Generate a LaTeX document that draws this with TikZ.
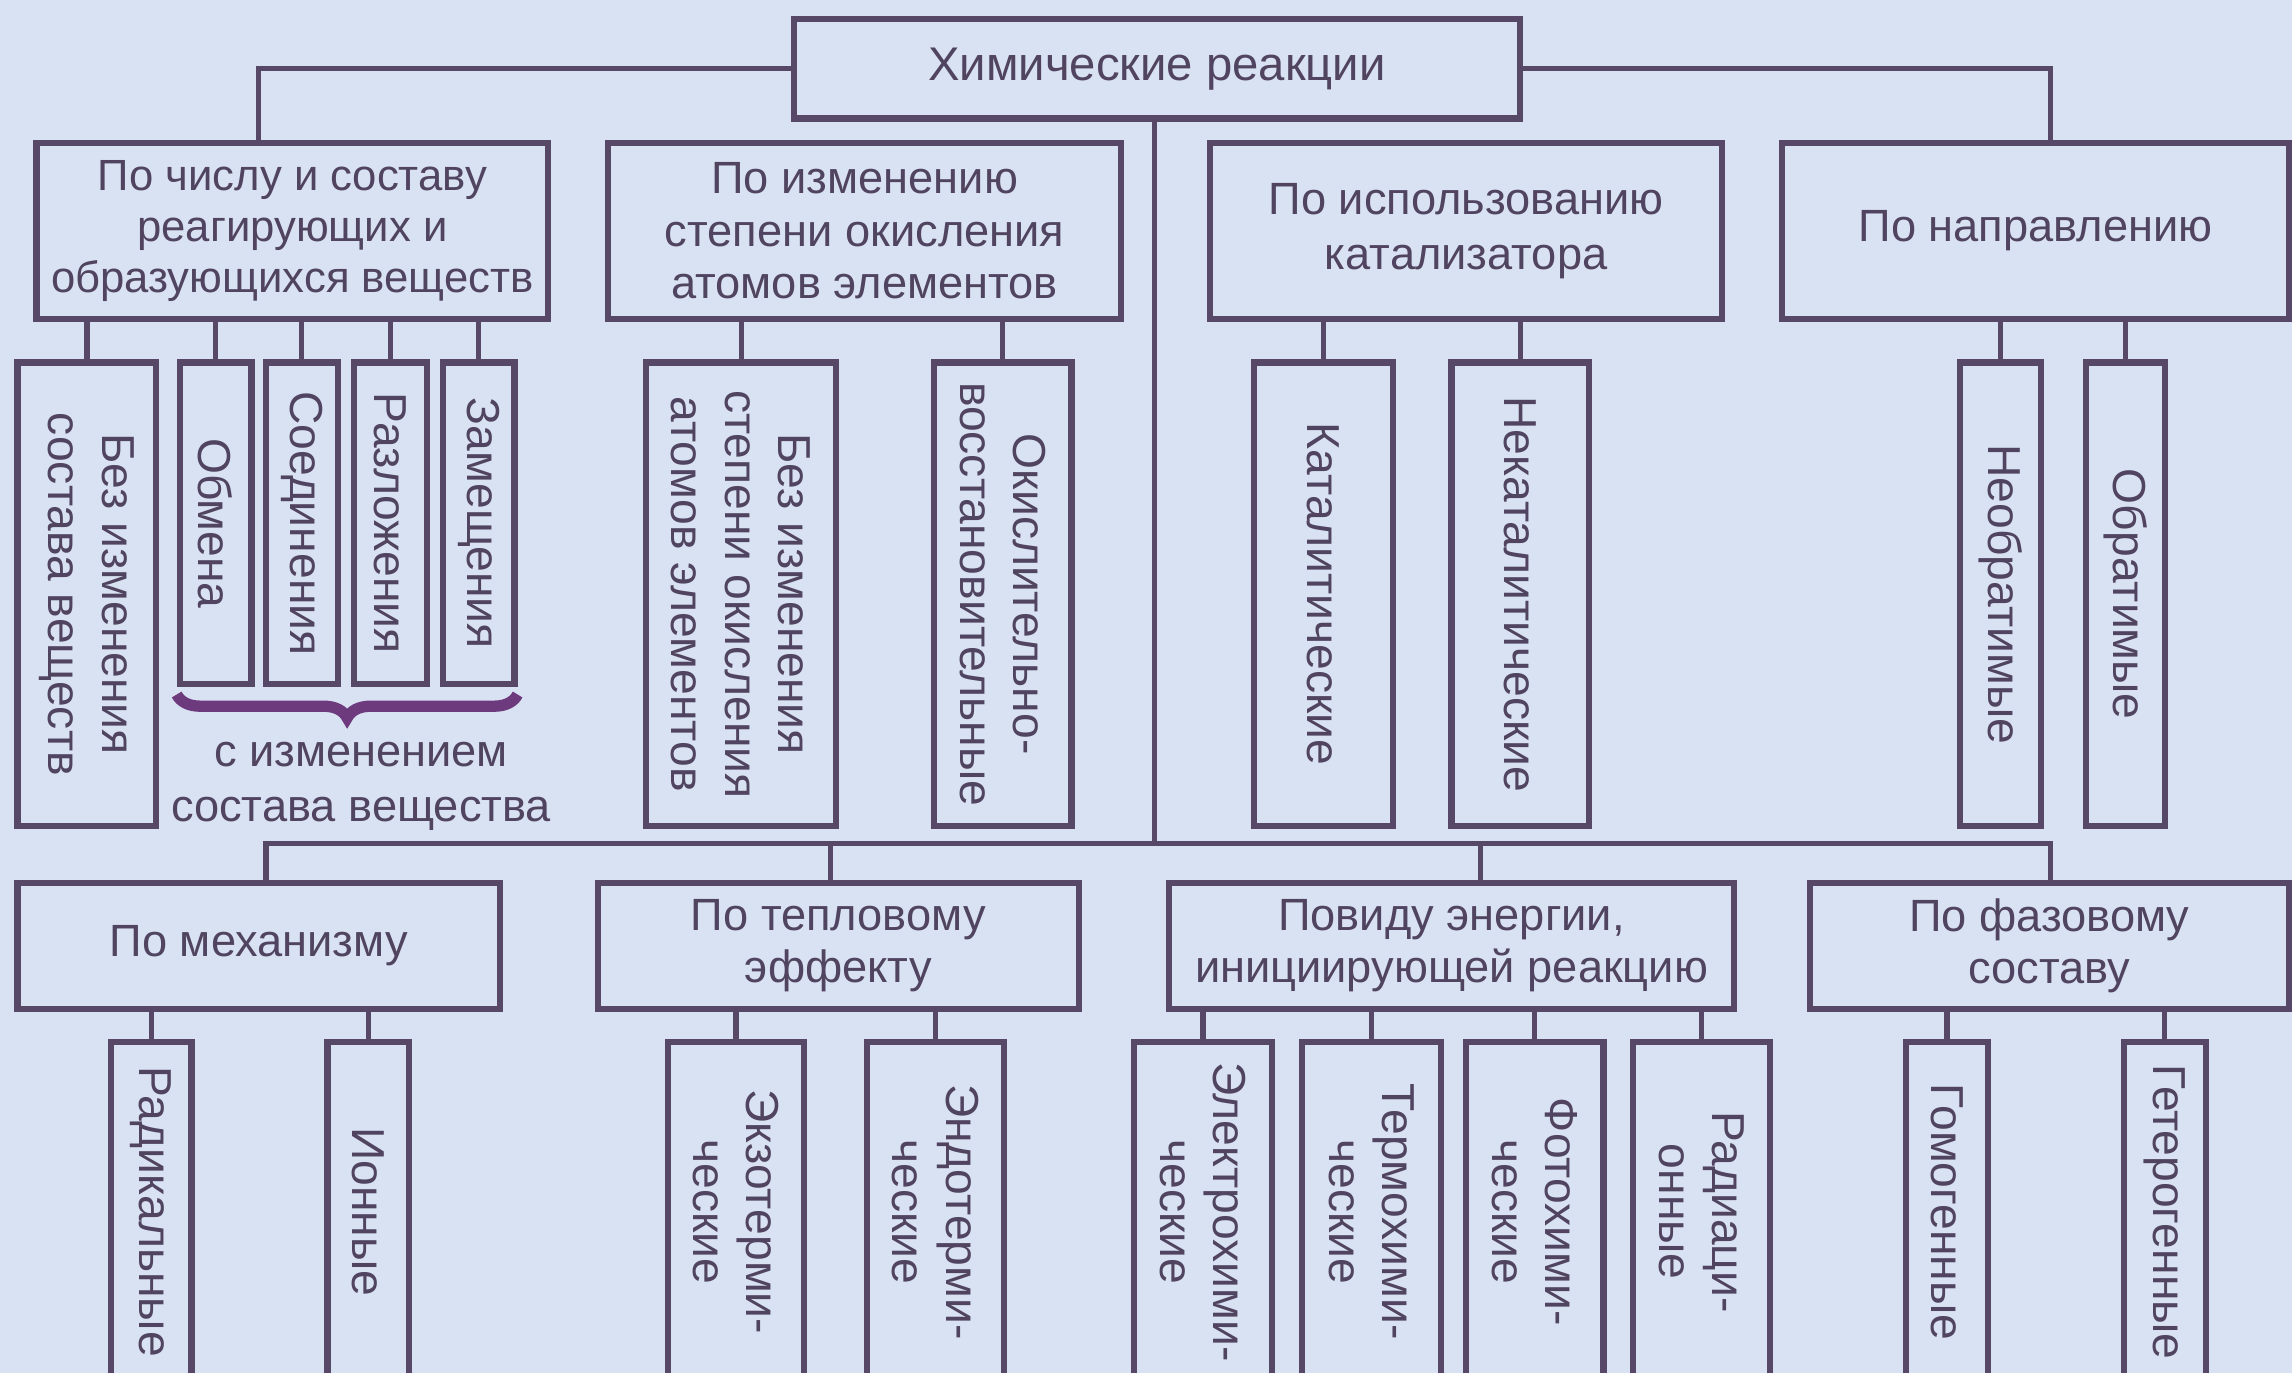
\documentclass[tikz,border=0pt]{standalone}
\usepackage{fontspec}
\setmainfont{Liberation Sans}
\usetikzlibrary{decorations.pathreplacing}
\definecolor{bg}{RGB}{217,226,242}
\definecolor{ln}{RGB}{88,72,104}
\definecolor{tx}{RGB}{80,68,96}
\definecolor{brc}{RGB}{110,58,126}
\begin{document}
\begin{tikzpicture}[x=0.1mm,y=-0.1mm,
  font=\fontsize{8.8}{10.2}\selectfont,
  hb/.style={draw=ln, line width=1.2pt, align=center, inner sep=0pt, text=tx},
  vb/.style={hb, rotate=-90, font=\fontsize{9}{10.4}\selectfont},
  cn/.style={draw=ln, line width=1pt}]
\useasboundingbox (0,0) rectangle (1568,939);
\fill[bg] (0,0) rectangle (1568,939);
\clip (0,0) rectangle (1568,939);

% top
\node[hb, minimum width=49.7mm, minimum height=6.8mm, font=\fontsize{9.2}{10.2}\selectfont] (top) at (791.5,47) {Химические реакции};

% row 1
\node[hb, minimum width=35mm, minimum height=12mm, font=\fontsize{8.5}{10}\selectfont] (b1) at (200,158) {По числу и составу\\реагирующих и\\образующихся веществ};
\node[hb, minimum width=35.1mm, minimum height=12mm] (b2) at (591.5,158) {По изменению\\степени окисления\\атомов элементов};
\node[hb, minimum width=35mm, minimum height=12mm, font=\fontsize{8.8}{10.8}\selectfont] (b3) at (1003,158) {По использованию\\катализатора};
\node[hb, minimum width=34.7mm, minimum height=12mm] (b4) at (1392.5,158) {По направлению};

% row 2
\node[vb, minimum width=31.7mm, minimum height=9.5mm] (c11) at (59.5,406.5) {Без изменения\\состава веществ};
\node[vb, minimum width=22mm, minimum height=4.9mm] (c12) at (147.5,358) {Обмена};
\node[vb, minimum width=22mm, minimum height=4.9mm] (c13) at (206.5,358) {Соединения};
\node[vb, minimum width=22mm, minimum height=5mm] (c14) at (267,358) {Разложения};
\node[vb, minimum width=22mm, minimum height=4.9mm] (c15) at (327.5,358) {Замещения};
\node[vb, minimum width=31.7mm, minimum height=13mm] (c21) at (507,406.5) {Без изменения\\степени окисления\\атомов элементов};
\node[vb, minimum width=31.7mm, minimum height=9.4mm] (c22) at (686,406.5) {Окислительно-\\восстановительные};
\node[vb, minimum width=31.7mm, minimum height=9.5mm] (c31) at (905.5,406.5) {Каталитические};
\node[vb, minimum width=31.7mm, minimum height=9.4mm] (c32) at (1040,406.5) {Некаталитические};
\node[vb, minimum width=31.7mm, minimum height=5.5mm] (c41) at (1368.5,406.5) {Необратимые};
\node[vb, minimum width=31.7mm, minimum height=5.4mm] (c42) at (1454,406.5) {Обратимые};

% brace and label
\draw[brc, line width=2.2pt, decorate, decoration={brace, amplitude=1.6mm, mirror}]
  ([yshift=-0.5mm]c12.south east) -- ([yshift=-0.5mm]c15.north east);
\node[text=tx, align=center, font=\fontsize{8.8}{10.6}\selectfont] (chg) at (247,538) {с изменением\\состава вещества};

% row 3
\node[hb, minimum width=33mm, minimum height=8.6mm] (b5) at (177,647) {По механизму};
\node[hb, minimum width=32.9mm, minimum height=8.6mm] (b6) at (573.5,647) {По тепловому\\эффекту};
\node[hb, minimum width=38.6mm, minimum height=8.6mm] (b7) at (993,647) {Повиду энергии,\\инициирующей реакцию};
\node[hb, minimum width=32.8mm, minimum height=8.6mm] (b8) at (1402,647) {По фазовому\\составу};

% row 4
\node[vb, minimum width=23.2mm, minimum height=5.5mm] (d51) at (103.5,829) {Радикальные};
\node[vb, minimum width=23.2mm, minimum height=5.6mm] (d52) at (252,829) {Ионные};
\node[vb, minimum width=23.2mm, minimum height=9.3mm] (d61) at (503.5,829) {Экзотерми-\\ческие};
\node[vb, minimum width=23.2mm, minimum height=9.4mm] (d62) at (640,829) {Эндотерми-\\ческие};
\node[vb, minimum width=23.2mm, minimum height=9.4mm] (d71) at (823,829) {Электрохими-\\ческие};
\node[vb, minimum width=23.2mm, minimum height=9.5mm] (d72) at (938.5,829) {Термохими-\\ческие};
\node[vb, minimum width=23.2mm, minimum height=9.4mm] (d73) at (1050,829) {Фотохими-\\ческие};
\node[vb, minimum width=23.2mm, minimum height=9.4mm] (d74) at (1164,829) {Радиаци-\\онные};
\node[vb, minimum width=23.2mm, minimum height=5.6mm] (d81) at (1332,829) {Гомогенные};
\node[vb, minimum width=23.2mm, minimum height=5.6mm] (d82) at (1481,829) {Гетерогенные};

% connectors top
\draw[cn] (top.west) -| ([xshift=-2.3mm]b1.north);
\draw[cn] (top.east) -| ([xshift=1.05mm]b4.north);
\coordinate (bus) at (790,577);
\draw[cn] (top.south -| bus) -- (bus);

% row 1 -> row 2
\foreach \c in {c11,c12,c13,c14,c15} \draw[cn] (\c.west) -- (\c.west |- b1.south);
\foreach \c in {c21,c22} \draw[cn] (\c.west) -- (\c.west |- b2.south);
\foreach \c in {c31,c32} \draw[cn] (\c.west) -- (\c.west |- b3.south);
\foreach \c in {c41,c42} \draw[cn] (\c.west) -- (\c.west |- b4.south);

% bus -> row 3
\draw[cn] ([xshift=0.5mm]b5.north) |- ([xshift=0.1mm]b8.north |- bus) -- ([xshift=0.1mm]b8.north);
\draw[cn] ([xshift=-0.55mm]b6.north) -- ([xshift=-0.55mm]b6.north |- bus);
\draw[cn] ([xshift=2mm]b7.north) -- ([xshift=2mm]b7.north |- bus);

% row 3 -> row 4
\foreach \c in {d51,d52} \draw[cn] (\c.west) -- (\c.west |- b5.south);
\foreach \c in {d61,d62} \draw[cn] (\c.west) -- (\c.west |- b6.south);
\foreach \c in {d71,d72,d73,d74} \draw[cn] (\c.west) -- (\c.west |- b7.south);
\foreach \c in {d81,d82} \draw[cn] (\c.west) -- (\c.west |- b8.south);
\end{tikzpicture}
\end{document}
